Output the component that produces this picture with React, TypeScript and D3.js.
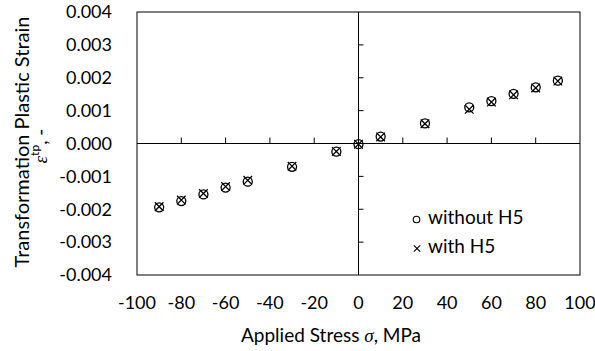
import React, { useRef, useEffect } from "react";
import * as d3 from "d3";

// stress, MPa
const stressNeg = [-90, -80, -70, -60, -50, -30, -10, 0];
const stressPos = [10, 30, 50, 60, 70, 80, 90];
// transformation plastic strain, without H5 (circles)
const strainWithoutNeg = [-0.00194, -0.00175, -0.00155, -0.00134, -0.00116, -0.00071, -0.00025, -0.00002];
const strainWithoutPos = [0.00021, 0.00061, 0.0011, 0.00129, 0.00151, 0.00171, 0.00191];
// with H5 (crosses)
const strainWithNeg = [-0.00192, -0.00172, -0.00152, -0.00131, -0.00112, -0.00069, -0.00024, -0.00002];
const strainWithPos = [0.0002, 0.0006, 0.00104, 0.00126, 0.00148, 0.00169, 0.0019];

const xTicks = [-100, -80, -60, -40, -20, 0, 20, 40, 60, 80, 100];
const yTicks = [-0.004, -0.003, -0.002, -0.001, 0, 0.001, 0.002, 0.003, 0.004];

const W = 595;
const H = 351;
const FONT = "Lato, 'Noto Sans', sans-serif";
const SERIF = "'Liberation Serif', 'DejaVu Serif', serif";

const App: React.FC = () => {
  const svgRef = useRef<SVGSVGElement | null>(null);

  useEffect(() => {
    if (!svgRef.current) return;
    const svg = d3.select(svgRef.current);
    svg.selectAll("*").remove();

    const left = 137, right = 580, top = 12, bottom = 275;
    const x = d3.scaleLinear().domain([-100, 100]).range([left, right]);
    const y = d3.scaleLinear().domain([-0.004, 0.004]).range([bottom, top]);

    // plot frame
    svg.append("rect")
      .attr("x", left).attr("y", top)
      .attr("width", right - left).attr("height", bottom - top)
      .attr("fill", "none").attr("stroke", "#000").attr("stroke-width", 1);

    // zero axes
    svg.append("line")
      .attr("x1", left).attr("x2", right)
      .attr("y1", y(0)).attr("y2", y(0))
      .attr("stroke", "#000").attr("stroke-width", 1);
    svg.append("line")
      .attr("x1", x(0)).attr("x2", x(0))
      .attr("y1", top).attr("y2", bottom)
      .attr("stroke", "#000").attr("stroke-width", 1);

    // ticks on the zero lines
    svg.append("g").selectAll("line")
      .data(xTicks.filter((t) => t !== 0 && Math.abs(t) !== 100))
      .join("line")
      .attr("x1", (d) => x(d)).attr("x2", (d) => x(d))
      .attr("y1", y(0)).attr("y2", y(0) - 6)
      .attr("stroke", "#000");
    svg.append("g").selectAll("line")
      .data(yTicks.filter((t) => t !== 0 && Math.abs(t) < 0.004))
      .join("line")
      .attr("x1", x(0)).attr("x2", x(0) + 5)
      .attr("y1", (d) => y(d)).attr("y2", (d) => y(d))
      .attr("stroke", "#000");

    // tick labels
    svg.append("g").selectAll("text")
      .data(xTicks)
      .join("text")
      .attr("x", (d) => x(d)).attr("y", 309)
      .attr("text-anchor", "middle")
      .attr("font-family", FONT).attr("font-size", 18)
      .text((d) => String(d));
    svg.append("g").selectAll("text")
      .data(yTicks)
      .join("text")
      .attr("x", 112).attr("y", (d) => y(d))
      .attr("dy", "0.35em")
      .attr("text-anchor", "end")
      .attr("font-family", FONT).attr("font-size", 18)
      .text((d) => d3.format(".3f")(d).replace("−", "-"));

    // axis titles
    const xt = svg.append("text")
      .attr("x", 331).attr("y", 342)
      .attr("text-anchor", "middle")
      .attr("font-family", FONT).attr("font-size", 19);
    xt.append("tspan").text("Applied Stress ");
    xt.append("tspan").attr("font-family", SERIF).attr("font-style", "italic").text("σ");
    xt.append("tspan").text(", MPa");

    svg.append("text")
      .attr("transform", `translate(29,142) rotate(-90)`)
      .attr("text-anchor", "middle")
      .attr("font-family", FONT).attr("font-size", 20)
      .text("Transformation Plastic Strain");
    const yt = svg.append("text")
      .attr("transform", `translate(47,146) rotate(-90)`)
      .attr("text-anchor", "middle")
      .attr("font-family", FONT).attr("font-size", 19);
    yt.append("tspan").attr("font-family", SERIF).attr("font-style", "italic").text("ε");
    yt.append("tspan").attr("font-size", 12).attr("dy", -8).text("tp");
    yt.append("tspan").attr("dy", 8).text(", -");

    // markers
    const stress = [...stressNeg, ...stressPos];
    const without = [...strainWithoutNeg, ...strainWithoutPos];
    const withH5 = [...strainWithNeg, ...strainWithPos];

    svg.append("g").selectAll("circle")
      .data(stress.map((s, i) => [s, without[i]]))
      .join("circle")
      .attr("cx", (d) => x(d[0])).attr("cy", (d) => y(d[1]))
      .attr("r", 4.5)
      .attr("fill", "none").attr("stroke", "#000").attr("stroke-width", 1.3);

    const cross = d3.symbol().type(d3.symbolX).size(50);
    svg.append("g").selectAll("path")
      .data(stress.map((s, i) => [s, withH5[i]]))
      .join("path")
      .attr("transform", (d) => `translate(${x(d[0])},${y(d[1])})`)
      .attr("d", cross)
      .attr("fill", "none").attr("stroke", "#000").attr("stroke-width", 1.3);

    // legend
    const lg = svg.append("g");
    lg.append("circle").attr("cx", 416.5).attr("cy", 219.5).attr("r", 3.3)
      .attr("fill", "none").attr("stroke", "#000").attr("stroke-width", 1.1);
    lg.append("path").attr("transform", "translate(417,248.5)")
      .attr("d", d3.symbol().type(d3.symbolX).size(28))
      .attr("fill", "none").attr("stroke", "#000").attr("stroke-width", 1.1);
    lg.append("text").attr("x", 428).attr("y", 223.5)
      .attr("font-family", FONT).attr("font-size", 19).text("without H5");
    lg.append("text").attr("x", 428).attr("y", 252.5)
      .attr("font-family", FONT).attr("font-size", 19).text("with H5");
  }, []);

  return (
    <svg
      ref={svgRef}
      width={W}
      height={H}
      style={{ position: "absolute", left: 0, top: 0, background: "#fff" }}
    />
  );
};

export default App;
